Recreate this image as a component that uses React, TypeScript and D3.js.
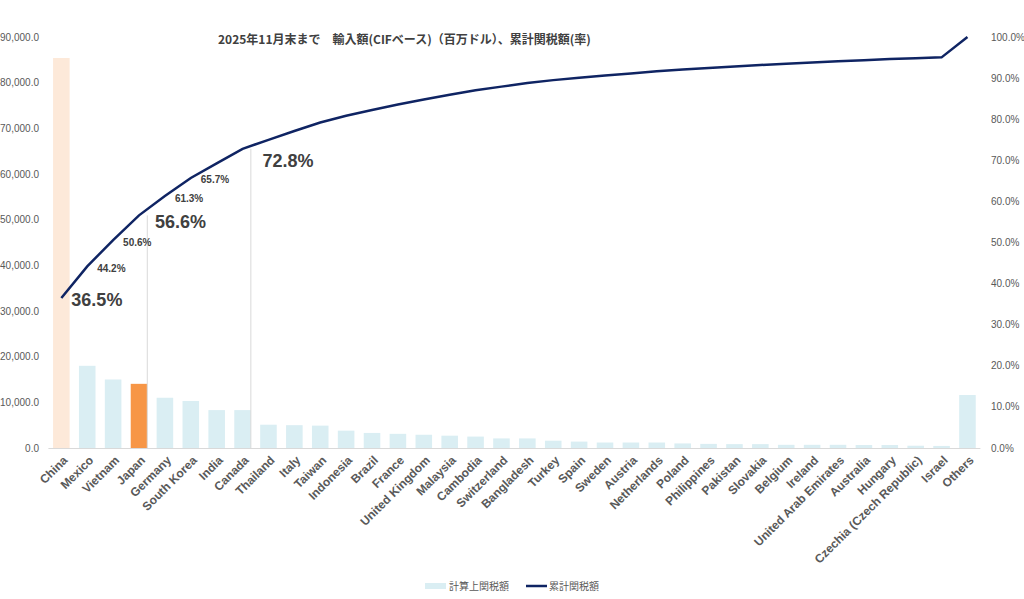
import * as d3 from "d3";
import { useEffect, useRef } from "react";

const width = 1024,
  height = 599,
  marginLeft = 48.4,
  marginRight = 43.6,
  marginTop = 37,
  axisY = 448;

const countries = [
  "China", "Mexico", "Vietnam", "Japan", "Germany", "South Korea", "India", "Canada",
  "Thailand", "Italy", "Taiwan", "Indonesia", "Brazil", "France", "United Kingdom",
  "Malaysia", "Cambodia", "Switzerland", "Bangladesh", "Turkey", "Spain", "Sweden",
  "Austria", "Netherlands", "Poland", "Philippines", "Pakistan", "Slovakia", "Belgium",
  "Ireland", "United Arab Emirates", "Australia", "Hungary", "Czechia (Czech Republic)",
  "Israel", "Others",
];

// 計算上関税額 (百万ドル)
const duties = [
  85400, 18000, 15000, 14050, 11000, 10300, 8300, 8300,
  5100, 5000, 4900, 3800, 3300, 3100, 2900,
  2700, 2500, 2100, 2100, 1600, 1400, 1200,
  1200, 1200, 1000, 900, 850, 850, 700,
  700, 700, 650, 650, 500,
  450, 11600,
];

const leftTicks = [0, 10000, 20000, 30000, 40000, 50000, 60000, 70000, 80000, 90000];
const rightTicks = [0, 0.1, 0.2, 0.3, 0.4, 0.5, 0.6, 0.7, 0.8, 0.9, 1.0];

// which points get a label, and how it is styled
const labelled = [0, 1, 2, 3, 4, 5, 7];
const bigLabels = [0, 3, 7];
const guideLines = [3, 7];

const title = "2025年11月末まで\u3000輸入額(CIFベース)（百万ドル）、累計関税額(率)";
const legendBar = "計算上関税額";
const legendLine = "累計関税額";

export default function App() {
  const ref = useRef<SVGSVGElement | null>(null);

  useEffect(() => {
    if (!ref.current) return;
    const svg = d3.select(ref.current);
    svg.selectAll("*").remove();

    const total = d3.sum(duties);
    const cum = d3.cumsum(duties).map((v) => v / total);

    const x = d3
      .scaleBand<string>()
      .domain(countries)
      .range([marginLeft, width - marginRight])
      .paddingInner(0.36)
      .paddingOuter(0.18);
    const cx = (c: string) => (x(c) ?? 0) + x.bandwidth() / 2;

    const y = d3.scaleLinear([0, 90000], [axisY, marginTop]);
    const y2 = d3.scaleLinear([0, 1], [axisY, marginTop]);

    const font = "'Liberation Sans', Arial, sans-serif";
    const grey = "#595959";

    // left axis
    svg
      .append("g")
      .selectAll("text")
      .data(leftTicks)
      .join("text")
      .attr("x", 39)
      .attr("y", (d) => y(d))
      .attr("dy", "0.35em")
      .attr("text-anchor", "end")
      .attr("font-family", font)
      .attr("font-size", 10)
      .attr("fill", grey)
      .text((d) => d3.format(",.1f")(d));

    // right axis
    svg
      .append("g")
      .selectAll("text")
      .data(rightTicks)
      .join("text")
      .attr("x", 991)
      .attr("y", (d) => y2(d))
      .attr("dy", "0.35em")
      .attr("font-family", font)
      .attr("font-size", 10)
      .attr("fill", grey)
      .text((d) => d3.format(".1%")(d));

    // bars
    svg
      .append("g")
      .selectAll("rect")
      .data(duties)
      .join("rect")
      .attr("x", (_, i) => x(countries[i]) ?? 0)
      .attr("width", x.bandwidth())
      .attr("y", (d) => y(d))
      .attr("height", (d) => axisY - y(d))
      .attr("fill", (_, i) => (i === 0 ? "#FDE9D9" : i === 3 ? "#F79646" : "#DAEEF3"));

    // baseline
    svg
      .append("line")
      .attr("x1", marginLeft)
      .attr("x2", width - marginRight)
      .attr("y1", axisY + 0.5)
      .attr("y2", axisY + 0.5)
      .attr("stroke", "#d9d9d9");

    // guide lines under selected points
    svg
      .append("g")
      .selectAll("line")
      .data(guideLines)
      .join("line")
      .attr("x1", (i) => (x(countries[i]) ?? 0) + x.bandwidth())
      .attr("x2", (i) => (x(countries[i]) ?? 0) + x.bandwidth())
      .attr("y1", (i) => y2(cum[i]))
      .attr("y2", axisY)
      .attr("stroke", "#d9d9d9")
      .attr("stroke-width", 1);

    // cumulative line
    const line = d3
      .line<number>()
      .x((_, i) => cx(countries[i]))
      .y((d) => y2(d));
    svg
      .append("path")
      .attr("fill", "none")
      .attr("stroke", "#0F2463")
      .attr("stroke-width", 2.5)
      .attr("d", line(cum));

    // data labels
    svg
      .append("g")
      .selectAll("text")
      .data(labelled)
      .join("text")
      .attr("x", (i) => cx(countries[i]) + (i === 3 ? 16 : i === 7 ? 20 : 10))
      .attr("y", (i) => y2(cum[i]) + (i === 3 ? 6 : i === 7 ? 12 : 2))
      .attr("dy", "0.35em")
      .attr("font-family", font)
      .attr("font-weight", "bold")
      .attr("font-size", (i) => (bigLabels.includes(i) ? 18 : 10))
      .attr("fill", "#404040")
      .text((i) => d3.format(".1%")(cum[i]));

    // x labels
    svg
      .append("g")
      .selectAll("text")
      .data(countries)
      .join("text")
      .attr("transform", (d) => `translate(${cx(d) + 4},${axisY + 10}) rotate(-45)`)
      .attr("dy", "0.35em")
      .attr("text-anchor", "end")
      .attr("font-family", font)
      .attr("font-weight", "bold")
      .attr("font-size", 12)
      .attr("fill", grey)
      .text((d) => d);

    // title
    svg
      .append("text")
      .attr("x", 218)
      .attr("y", 40)
      .attr("dy", "0.35em")
      .attr("font-family", "'Noto Sans CJK JP', sans-serif")
      .attr("font-weight", "bold")
      .attr("font-size", 12)
      .attr("fill", "#404040")
      .text(title);

    // legend
    const lg = svg.append("g").attr("font-family", "'Noto Sans CJK JP', sans-serif").attr("font-size", 10).attr("fill", grey);
    lg.append("rect").attr("x", 425).attr("y", 583).attr("width", 21).attr("height", 6).attr("fill", "#DAEEF3");
    lg.append("text").attr("x", 449).attr("y", 586).attr("dy", "0.35em").text(legendBar);
    lg.append("line").attr("x1", 526).attr("x2", 547).attr("y1", 586).attr("y2", 586).attr("stroke", "#0F2463").attr("stroke-width", 2.5);
    lg.append("text").attr("x", 549).attr("y", 586).attr("dy", "0.35em").text(legendLine);
  }, []);

  return (
    <svg
      ref={ref}
      width={width}
      height={height}
      viewBox={`0 0 ${width} ${height}`}
      style={{ position: "absolute", left: 0, top: 0, background: "#fff" }}
    />
  );
}
